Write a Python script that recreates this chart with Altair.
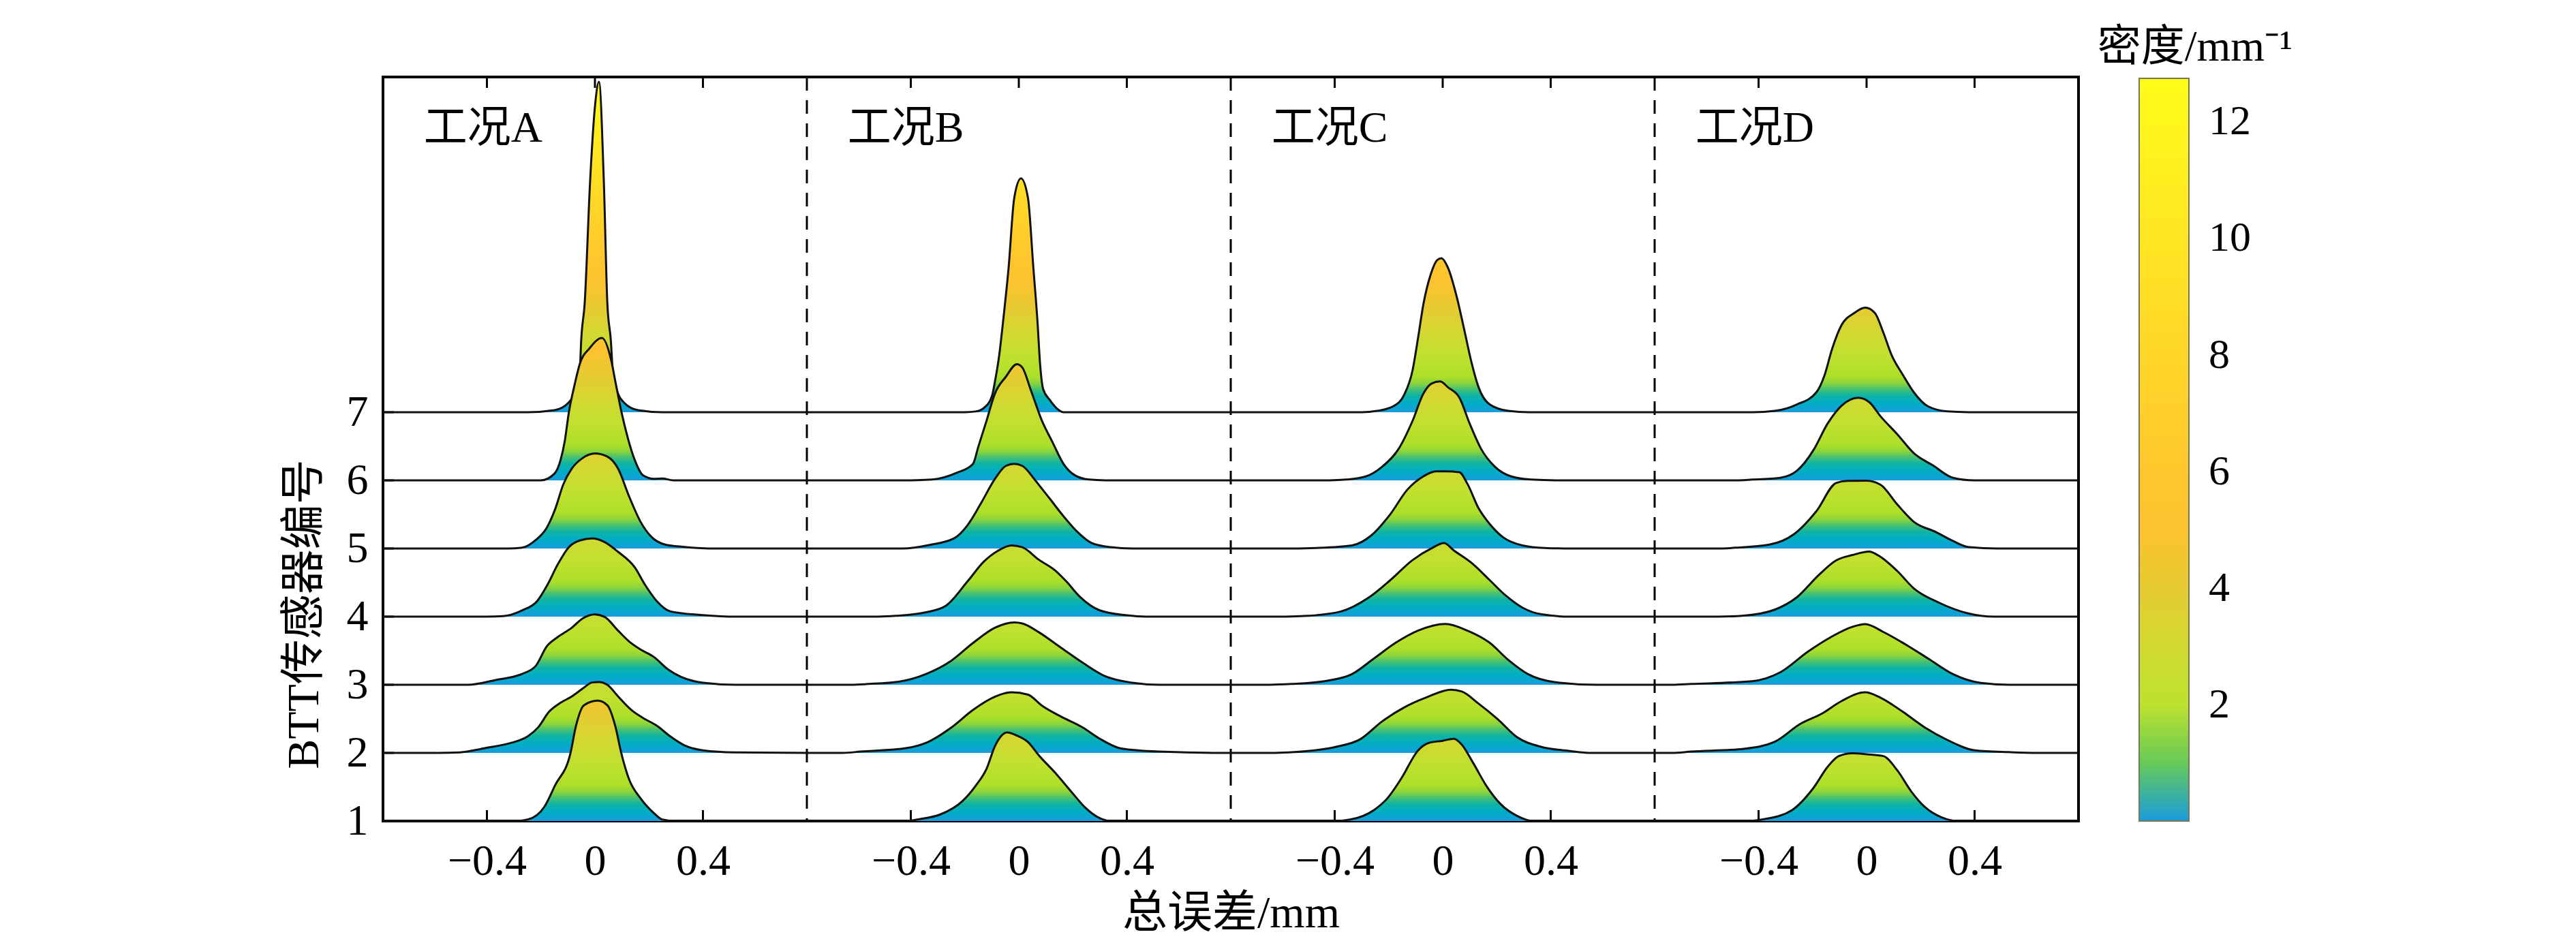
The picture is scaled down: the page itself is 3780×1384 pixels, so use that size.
import altair as alt
import pandas as pd

# ---------------- data ----------------
CASES = ["工况A", "工况B", "工况C", "工况D"]
SENSORS = [1, 2, 3, 4, 5, 6, 7]
X_TICKS = [-0.4, 0.0, 0.4]
CB_TICKS = [2, 4, 6, 8, 10, 12]
PANEL = 1.57      # x span (mm) of one case panel
HALF = 0.785
YTOP = 11.92
K = 0.38          # ridge height per unit density (in sensor-index units)

# density curves (total error mm -> density mm^-1), case A
A1_x = [-0.785, -0.30, -0.249, -0.188, -0.148, -0.09, -0.071, -0.041, 0.01, 0.046, 0.076, 0.097, 0.127, 0.168, 0.219, 0.249, 0.30, 0.785]
A1_d = [0, 0, 0.06, 0.54, 1.37, 2.65, 3.64, 4.47, 4.65, 4.47, 3.64, 2.65, 1.6, 0.89, 0.3, 0.06, 0, 0]
A2_x = [-0.785, -0.58, -0.50, -0.41, -0.31, -0.25, -0.21, -0.17, -0.127, -0.086, -0.046, -0.01, 0.015, 0.046, 0.086, 0.137, 0.178, 0.229, 0.28, 0.33, 0.40, 0.52, 0.785]
A2_d = [0, 0, 0.02, 0.18, 0.39, 0.63, 0.99, 1.59, 1.94, 2.18, 2.48, 2.72, 2.74, 2.63, 2.18, 1.64, 1.35, 1.05, 0.63, 0.30, 0.1, 0.02, 0]
A3_x = [-0.785, -0.55, -0.47, -0.37, -0.27, -0.22, -0.178, -0.137, -0.086, -0.046, 0.0, 0.036, 0.086, 0.127, 0.168, 0.219, 0.27, 0.32, 0.40, 0.52, 0.785]
A3_d = [0, 0, 0, 0.18, 0.42, 0.72, 1.49, 1.85, 2.2, 2.56, 2.72, 2.62, 2.09, 1.67, 1.37, 1.07, 0.6, 0.3, 0.08, 0, 0]
A4_x = [-0.785, -0.40, -0.34, -0.27, -0.214, -0.178, -0.137, -0.097, -0.056, -0.01, 0.036, 0.086, 0.147, 0.188, 0.229, 0.28, 0.40, 0.52, 0.785]
A4_d = [0, 0, 0.02, 0.24, 0.6, 1.19, 2.03, 2.68, 2.94, 3.02, 2.88, 2.5, 1.91, 1.19, 0.6, 0.2, 0.06, 0, 0]
A5_x = [-0.785, -0.32, -0.27, -0.219, -0.178, -0.147, -0.117, -0.086, -0.046, 0.0, 0.046, 0.086, 0.127, 0.168, 0.209, 0.26, 0.32, 0.42, 0.785]
A5_d = [0, 0, 0.03, 0.33, 0.81, 1.53, 2.48, 3.08, 3.49, 3.67, 3.55, 3.08, 2.0, 1.05, 0.45, 0.15, 0.07, 0, 0]
A6_x = [-0.785, -0.2, -0.15, -0.127, -0.112, -0.097, -0.076, -0.056, -0.02, 0.026, 0.061, 0.076, 0.097, 0.122, 0.147, 0.178, 0.219, 0.25, 0.29, 0.785]
A6_d = [0, 0, 0.26, 0.8, 1.5, 2.6, 3.66, 4.5, 5.1, 5.5, 4.6, 3.8, 2.7, 1.63, 0.8, 0.2, 0.06, 0.07, 0, 0]
A7_x = [-0.785, -0.25, -0.15, -0.10, -0.07, -0.056, -0.051, -0.038, -0.018, 0.0, 0.015, 0.033, 0.046, 0.059, 0.066, 0.08, 0.11, 0.16, 0.25, 0.785]
A7_d = [0, 0, 0.08, 0.35, 0.9, 1.6, 2.76, 4.2, 8.9, 11.8, 12.76, 8.9, 4.2, 2.76, 1.6, 0.9, 0.35, 0.08, 0, 0]

# case B
B1_x = [-0.785, -0.42, -0.364, -0.292, -0.21, -0.16, -0.119, -0.089, -0.043, -0.007, 0.034, 0.074, 0.135, 0.197, 0.247, 0.298, 0.34, 0.785]
B1_d = [0, 0, 0.08, 0.25, 0.76, 1.36, 2.03, 2.88, 3.42, 3.3, 3.05, 2.54, 1.86, 1.1, 0.51, 0.12, 0, 0]
B2_x = [-0.785, -0.65, -0.587, -0.414, -0.343, -0.25, -0.17, -0.089, -0.027, 0.034, 0.085, 0.155, 0.237, 0.298, 0.379, 0.52, 0.75, 0.785]
B2_d = [0, 0, 0.05, 0.19, 0.39, 0.98, 1.66, 2.17, 2.34, 2.25, 1.83, 1.41, 0.98, 0.56, 0.17, 0.05, 0, 0]
B3_x = [-0.785, -0.62, -0.557, -0.445, -0.343, -0.25, -0.17, -0.089, -0.017, 0.013, 0.074, 0.155, 0.237, 0.318, 0.42, 0.52, 0.785]
B3_d = [0, 0, 0.03, 0.12, 0.42, 0.93, 1.61, 2.2, 2.41, 2.37, 2.03, 1.44, 0.85, 0.34, 0.08, 0, 0]
B4_x = [-0.785, -0.52, -0.455, -0.343, -0.27, -0.19, -0.13, -0.078, -0.027, 0.013, 0.074, 0.135, 0.176, 0.227, 0.298, 0.40, 0.47, 0.785]
B4_d = [0, 0, 0.03, 0.17, 0.42, 1.36, 2.12, 2.54, 2.75, 2.68, 2.2, 1.78, 1.36, 0.76, 0.25, 0.05, 0, 0]
B5_x = [-0.785, -0.43, -0.33, -0.24, -0.19, -0.14, -0.089, -0.048, -0.017, 0.013, 0.064, 0.115, 0.166, 0.217, 0.268, 0.34, 0.42, 0.785]
B5_d = [0, 0, 0.14, 0.39, 0.9, 1.75, 2.68, 3.19, 3.27, 3.19, 2.59, 1.92, 1.24, 0.64, 0.22, 0.05, 0, 0]
B6_x = [-0.785, -0.40, -0.32, -0.23, -0.17, -0.15, -0.119, -0.089, -0.048, -0.007, 0.013, 0.044, 0.085, 0.125, 0.166, 0.207, 0.26, 0.32, 0.785]
B6_d = [0, 0, 0.03, 0.29, 0.63, 1.3, 2.32, 3.34, 4.0, 4.49, 4.36, 3.5, 2.32, 1.47, 0.63, 0.2, 0.03, 0, 0]
B7_x = [-0.785, -0.20, -0.16, -0.129, -0.099, -0.089, -0.073, -0.058, -0.038, -0.017, 0.008, 0.034, 0.054, 0.069, 0.079, 0.09, 0.115, 0.146, 0.166, 0.785]
B7_d = [0, 0, 0.03, 0.17, 0.64, 1.15, 2.17, 3.53, 5.56, 8.27, 9.03, 8.27, 5.56, 3.53, 1.83, 0.9, 0.47, 0.1, 0, 0]

# case C
C1_x = [-0.785, -0.40, -0.346, -0.254, -0.204, -0.153, -0.092, -0.051, 0.0, 0.041, 0.071, 0.112, 0.163, 0.214, 0.275, 0.336, 0.785]
C1_d = [0, 0, 0.05, 0.43, 0.89, 1.65, 2.72, 3.02, 3.1, 3.18, 2.95, 2.26, 1.34, 0.66, 0.2, 0, 0]
C2_x = [-0.785, -0.62, -0.55, -0.397, -0.305, -0.224, -0.142, -0.061, 0.031, 0.071, 0.132, 0.204, 0.275, 0.366, 0.468, 0.55, 0.785]
C2_d = [0, 0, 0.03, 0.23, 0.53, 1.22, 1.76, 2.14, 2.44, 2.37, 1.91, 1.3, 0.61, 0.23, 0.08, 0, 0]
C3_x = [-0.785, -0.64, -0.56, -0.438, -0.336, -0.254, -0.173, -0.092, 0.01, 0.092, 0.173, 0.244, 0.316, 0.417, 0.57, 0.785]
C3_d = [0, 0, 0.03, 0.14, 0.41, 1.02, 1.63, 2.09, 2.35, 2.09, 1.63, 0.95, 0.41, 0.1, 0, 0]
C4_x = [-0.785, -0.58, -0.5, -0.377, -0.275, -0.193, -0.112, -0.041, 0.005, 0.041, 0.112, 0.173, 0.234, 0.295, 0.366, 0.47, 0.785]
C4_d = [0, 0, 0.03, 0.2, 0.73, 1.42, 2.18, 2.64, 2.84, 2.56, 2.03, 1.42, 0.81, 0.35, 0.09, 0, 0]
C5_x = [-0.785, -0.55, -0.468, -0.336, -0.265, -0.193, -0.132, -0.071, -0.025, 0.01, 0.061, 0.092, 0.132, 0.173, 0.224, 0.295, 0.377, 0.47, 0.785]
C5_d = [0, 0, 0.02, 0.12, 0.5, 1.34, 2.26, 2.79, 2.98, 2.98, 2.95, 2.49, 1.57, 0.96, 0.43, 0.12, 0.02, 0, 0]
C6_x = [-0.785, -0.42, -0.356, -0.285, -0.224, -0.163, -0.112, -0.071, -0.041, -0.01, 0.02, 0.061, 0.102, 0.142, 0.193, 0.254, 0.326, 0.42, 0.785]
C6_d = [0, 0, 0.03, 0.15, 0.53, 1.22, 2.29, 3.36, 3.74, 3.82, 3.59, 3.21, 2.14, 1.22, 0.53, 0.15, 0.03, 0, 0]
C7_x = [-0.785, -0.30, -0.244, -0.183, -0.142, -0.112, -0.092, -0.071, -0.046, -0.02, -0.005, 0.02, 0.051, 0.081, 0.107, 0.132, 0.173, 0.244, 0.32, 0.785]
C7_d = [0, 0, 0.05, 0.23, 0.69, 1.6, 2.82, 4.2, 5.27, 5.88, 5.95, 5.57, 4.5, 3.13, 1.91, 0.99, 0.31, 0.05, 0, 0]

# case D
D1_x = [-0.785, -0.44, -0.381, -0.278, -0.196, -0.144, -0.103, -0.052, 0.0, 0.062, 0.113, 0.165, 0.216, 0.278, 0.34, 0.785]
D1_d = [0, 0, 0.07, 0.41, 1.29, 2.1, 2.51, 2.62, 2.58, 2.51, 1.97, 1.15, 0.54, 0.14, 0, 0]
D2_x = [-0.785, -0.72, -0.65, -0.454, -0.34, -0.247, -0.165, -0.093, -0.005, 0.052, 0.134, 0.216, 0.299, 0.402, 0.526, 0.63, 0.785]
D2_d = [0, 0, 0.05, 0.16, 0.43, 1.11, 1.52, 2.0, 2.34, 2.13, 1.59, 0.98, 0.5, 0.1, 0.03, 0, 0]
D3_x = [-0.785, -0.72, -0.65, -0.423, -0.32, -0.216, -0.134, -0.052, -0.005, 0.062, 0.144, 0.227, 0.32, 0.423, 0.526, 0.785]
D3_d = [0, 0, 0.03, 0.14, 0.48, 1.29, 1.83, 2.24, 2.34, 2.04, 1.56, 1.02, 0.41, 0.07, 0, 0]
D4_x = [-0.785, -0.55, -0.454, -0.34, -0.258, -0.175, -0.113, -0.052, 0.01, 0.041, 0.113, 0.175, 0.268, 0.371, 0.474, 0.785]
D4_d = [0, 0, 0.04, 0.27, 0.75, 1.63, 2.17, 2.38, 2.51, 2.38, 1.77, 1.09, 0.54, 0.14, 0, 0]
D5_x = [-0.785, -0.56, -0.485, -0.36, -0.268, -0.186, -0.113, -0.072, 0.0, 0.052, 0.113, 0.175, 0.258, 0.32, 0.38, 0.485, 0.785]
D5_d = [0, 0, 0.03, 0.15, 0.56, 1.44, 2.53, 2.61, 2.62, 2.46, 1.71, 1.03, 0.63, 0.29, 0.05, 0, 0]
D6_x = [-0.785, -0.50, -0.423, -0.32, -0.258, -0.196, -0.144, -0.093, -0.031, 0.01, 0.052, 0.113, 0.175, 0.247, 0.32, 0.40, 0.785]
D6_d = [0, 0, 0.03, 0.1, 0.37, 1.18, 2.2, 2.88, 3.19, 3.02, 2.47, 1.79, 1.05, 0.57, 0.1, 0, 0]
D7_x = [-0.785, -0.42, -0.34, -0.258, -0.186, -0.155, -0.129, -0.093, -0.046, -0.005, 0.031, 0.062, 0.093, 0.134, 0.175, 0.227, 0.30, 0.38, 0.785]
D7_d = [0, 0, 0.05, 0.3, 0.77, 1.45, 2.4, 3.36, 3.83, 4.04, 3.83, 3.08, 2.2, 1.45, 0.77, 0.23, 0.03, 0, 0]

CURVES = {
    "工况A": [(A1_x, A1_d), (A2_x, A2_d), (A3_x, A3_d), (A4_x, A4_d), (A5_x, A5_d), (A6_x, A6_d), (A7_x, A7_d)],
    "工况B": [(B1_x, B1_d), (B2_x, B2_d), (B3_x, B3_d), (B4_x, B4_d), (B5_x, B5_d), (B6_x, B6_d), (B7_x, B7_d)],
    "工况C": [(C1_x, C1_d), (C2_x, C2_d), (C3_x, C3_d), (C4_x, C4_d), (C5_x, C5_d), (C6_x, C6_d), (C7_x, C7_d)],
    "工况D": [(D1_x, D1_d), (D2_x, D2_d), (D3_x, D3_d), (D4_x, D4_d), (D5_x, D5_d), (D6_x, D6_d), (D7_x, D7_d)],
}

# colour map of the colour bar (density -> colour)
CMAP_D = [0, 0.35, 0.65, 0.9, 1.1, 1.35, 2.0, 3.0, 4.0, 5.0, 6.0, 8.0, 10.0, 12.74]
CMAP_C = ["#1a9cdc", "#00adc6", "#0fb4a4", "#48c170", "#86d340", "#abdf2a", "#bde12e",
          "#d1d932", "#e6cb32", "#fcc22f", "#ffc72d", "#ffd628", "#ffe623", "#fffc1a"]

# ---------------- styling helpers ----------------
NUM_FONT = "Liberation Serif, Noto Sans CJK SC"
LINE_COL = "#111111"


def _rgb(h):
    return tuple(int(h[i:i + 2], 16) for i in (1, 3, 5))


def cmap(v):
    for i in range(len(CMAP_D) - 1):
        if v <= CMAP_D[i + 1]:
            t = (v - CMAP_D[i]) / (CMAP_D[i + 1] - CMAP_D[i])
            a, b = _rgb(CMAP_C[i]), _rgb(CMAP_C[i + 1])
            return "#%02x%02x%02x" % tuple(round(a[j] + (b[j] - a[j]) * t) for j in range(3))
    return CMAP_C[-1]


def grad(peak):
    stops = [alt.GradientStop(color=c, offset=dv / peak) for dv, c in zip(CMAP_D, CMAP_C) if dv < peak]
    stops.append(alt.GradientStop(color=cmap(peak), offset=1))
    return alt.Gradient(gradient="linear", stops=stops, x1=0, x2=0, y1=1, y2=0)


CENTERS = [i * PANEL for i in range(len(CASES))]
TICK_VALUES = [round(c + v, 4) for c in CENTERS for v in X_TICKS]
LABEL_EXPR = ("abs(datum.value - round(datum.value / 1.57) * 1.57) < 0.01 ? '0' : "
              "((datum.value - round(datum.value / 1.57) * 1.57) < 0 ? '\u22120.4' : '0.4')")


def xenc(field="x"):
    return alt.X(f"{field}:Q",
                 scale=alt.Scale(domain=[-HALF, (len(CASES) - 1) * PANEL + HALF], nice=False, zero=False),
                 axis=alt.Axis(values=TICK_VALUES, labelExpr=LABEL_EXPR, ticks=False, domain=False, grid=False,
                               labelFont=NUM_FONT, labelFontSize=64, labelColor="black", labelPadding=27,
                               labelOverlap=False, labelFlush=False,
                               title="总误差/mm", titleFont=NUM_FONT, titleFontSize=66, titleFontWeight="normal",
                               titleColor="black", titleY=155, titleBaseline="alphabetic"))


def yenc(field="y"):
    return alt.Y(f"{field}:Q", stack=None,
                 scale=alt.Scale(domain=[1, YTOP], nice=False, zero=False),
                 axis=alt.Axis(values=SENSORS, format="d", ticks=False, domain=False, grid=False,
                               labelFont=NUM_FONT, labelFontSize=64, labelColor="black", labelPadding=22,
                               labelFlush=False, labelOverlap=False,
                               title="BTT传感器编号", titleFont=NUM_FONT, titleFontSize=66,
                               titleFontWeight="normal", titleColor="black", titleAngle=270,
                               titleX=-96, titleY=788, titleBaseline="alphabetic", titleAlign="center"))


layers = []

# inward ticks (bottom, top) and left ticks
bot = pd.DataFrame({"x": TICK_VALUES, "y": [1] * len(TICK_VALUES), "y2": [1.16] * len(TICK_VALUES)})
top = pd.DataFrame({"x": TICK_VALUES, "y": [YTOP] * len(TICK_VALUES), "y2": [YTOP - 0.16] * len(TICK_VALUES)})
for df in (bot, top):
    layers.append(alt.Chart(df).mark_rule(color="black", strokeWidth=3).encode(
        x=xenc(), y=yenc(), y2="y2:Q"))
left = pd.DataFrame({"x": [-HALF] * len(SENSORS), "x2": [-HALF + 0.04] * len(SENSORS), "y": SENSORS})
layers.append(alt.Chart(left).mark_rule(color="black", strokeWidth=3).encode(
    x=xenc(), x2="x2:Q", y=yenc()))

# dashed separators between cases
sep = pd.DataFrame({"x": [c + HALF for c in CENTERS[:-1]]})
layers.append(alt.Chart(sep).mark_rule(color="black", strokeWidth=3, strokeDash=[20, 14]).encode(x=xenc()))

# ridgelines, drawn from sensor 7 down to sensor 1
for s in reversed(SENSORS):
    for ci, case in enumerate(CASES):
        xs, ds = CURVES[case][s - 1]
        df = pd.DataFrame({"x": [CENTERS[ci] + v for v in xs],
                           "y": [s + K * d for d in ds],
                           "y2": [s] * len(xs)})
        layers.append(alt.Chart(df).mark_area(
            color=grad(max(ds)), interpolate="monotone", opacity=1, fillOpacity=1,
            line={"color": LINE_COL, "strokeWidth": 3}).encode(x=xenc(), y=yenc(), y2="y2:Q"))

# case labels
lab = pd.DataFrame({"x": [c - 0.634 for c in CENTERS], "y": [10.97] * len(CASES), "t": CASES})
layers.append(alt.Chart(lab).mark_text(align="left", baseline="alphabetic", font=NUM_FONT,
                                       fontSize=64, color="black").encode(x=xenc(), y=yenc(), text="t:N"))

# colour bar (legend of the density colour scale)
cb = pd.DataFrame({"d": CMAP_D})
layers.append(alt.Chart(cb).mark_point(opacity=0, filled=True).encode(
    x=alt.value(0), y=alt.value(0),
    color=alt.Color("d:Q",
                    scale=alt.Scale(domain=CMAP_D, range=CMAP_C, interpolate="rgb"),
                    legend=alt.Legend(orient="none", legendX=2516, legendY=-75, direction="vertical",
                                      gradientLength=1090, gradientThickness=73,
                                      gradientStrokeColor="#77775a", gradientStrokeWidth=2,
                                      values=CB_TICKS, format="d", labelOverlap=False,
                                      labelFont=NUM_FONT, labelFontSize=62, labelColor="black", labelOffset=29,
                                      title="密度/mm\u207b\u00b9", titleFont=NUM_FONT, titleFontSize=64,
                                      titleLimit=2000, titleFontWeight="normal", titleColor="black",
                                      titleAnchor="middle", titlePadding=13, padding=0))))

chart = alt.layer(*layers).properties(
    width=2488, height=1092,
    padding={"left": 554, "top": 105, "right": 712, "bottom": 170},
    autosize=alt.AutoSizeParams(type="none"),
).configure_view(stroke="black", strokeWidth=4)

chart.save("out.html", embed_options={"renderer": "svg", "actions": False})
